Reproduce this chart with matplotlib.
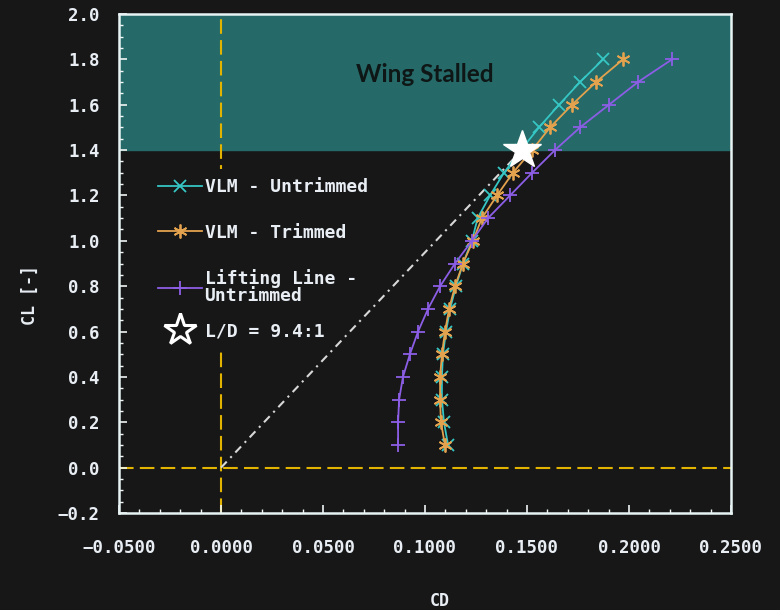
import numpy as np
import matplotlib as mpl
mpl.use('Agg')
import matplotlib.pyplot as plt
from matplotlib.lines import Line2D
from matplotlib.ticker import MultipleLocator, FuncFormatter

# CL sweep shared by all three polars
cl = [0.1, 0.2, 0.3, 0.4, 0.5, 0.6, 0.7, 0.8, 0.9, 1.0,
      1.1, 1.2, 1.3, 1.4, 1.5, 1.6, 1.7, 1.8]
cd_vlm_untrim = [0.1113, 0.1093, 0.1083, 0.1083, 0.1088, 0.1103, 0.1123, 0.1152, 0.1186,
                 0.1230, 0.1258, 0.1319, 0.1387, 0.1470, 0.1559, 0.1657, 0.1760, 0.1873]
cd_vlm_trim = [0.1098, 0.1078, 0.1074, 0.1074, 0.1083, 0.1098, 0.1118, 0.1147, 0.1186,
               0.1235, 0.1279, 0.1353, 0.1431, 0.1525, 0.1613, 0.1721, 0.1838, 0.1971]
cd_lifting = [0.0868, 0.0868, 0.0873, 0.0892, 0.0926, 0.0966, 0.1015, 0.1074, 0.1147,
              0.1230, 0.1309, 0.1417, 0.1525, 0.1637, 0.1760, 0.1902, 0.2044, 0.2211]

# best L/D point and stall limit
ld_cd = 0.1475
ld_cl = 1.40
stall_cl = 1.4

bg = '#171717'
txt = '#e8eef4'
mono = 'DejaVu Sans Mono'

c_cyan = '#36c6c4'
c_orange = '#e3a24e'
c_purple = '#8c5ee6'

fig = plt.figure(figsize=(7.8, 6.1), dpi=100, facecolor=bg)
ax = fig.add_axes([119/780, 97/610, 612/780, 499/610], facecolor=bg)

ax.axhspan(stall_cl, 2.0, color='#256a68', zorder=0)
ax.axvline(0, color='#e2b400', lw=1.5, dashes=[7, 3], zorder=1)
ax.axhline(0, color='#e2b400', lw=1.5, dashes=[7, 3], zorder=1)

ax.plot([0, ld_cd], [0, ld_cl], color='#d8d8d8', lw=1.5, dashes=[4, 2.5, 1, 2.5], zorder=3)

l1, = ax.plot(cd_vlm_untrim, cl, color=c_cyan, lw=1.3, marker='x', ms=8, mew=1.3, zorder=4)
l2, = ax.plot(cd_vlm_trim, cl, color=c_orange, lw=1.3, marker=(6, 2, 0), ms=10, mew=1.3, zorder=4)
l3, = ax.plot(cd_lifting, cl, color=c_purple, lw=1.3, marker='+', ms=10, mew=1.3, zorder=4)
ax.plot([ld_cd], [ld_cl], marker='*', ms=29, mfc='white', mec='white', ls='none', zorder=6)

ax.text(0.5, 0.878, 'Wing Stalled', transform=ax.transAxes, ha='center', va='center',
        fontsize=17.5, family='Lato', weight='bold', color='#0e1616')

ax.set_xlim(-0.05, 0.25)
ax.set_ylim(-0.2, 2.0)
ax.xaxis.set_major_locator(MultipleLocator(0.05))
ax.xaxis.set_minor_locator(MultipleLocator(0.01))
ax.yaxis.set_major_locator(MultipleLocator(0.2))
ax.yaxis.set_minor_locator(MultipleLocator(0.05))
ax.xaxis.set_major_formatter(FuncFormatter(lambda v, p: ('%.4f' % v).replace('-', '\u2212')))
ax.yaxis.set_major_formatter(FuncFormatter(lambda v, p: ('%.1f' % v).replace('-', '\u2212')))

ax.tick_params(which='both', direction='in', colors='#f0f4f4', labelcolor=txt,
               labelsize=12.5, top=False, right=False)
ax.tick_params(which='major', length=6, width=1.2)
ax.tick_params(axis='x', which='major', pad=19)
ax.tick_params(axis='y', which='major', pad=14)
ax.tick_params(which='minor', length=3, width=1.0)
for lab in ax.get_xticklabels() + ax.get_yticklabels():
    lab.set_family(mono)
    lab.set_weight('bold')
for s in ax.spines.values():
    s.set_color('#e8f4f4')
    s.set_linewidth(1.8)

ax.set_xlabel('CD', family=mono, fontsize=12, weight='bold', color=txt, va='center')
ax.set_ylabel('CL [-]', family=mono, fontsize=12, weight='bold', color=txt, va='center')
ax.xaxis.set_label_coords(0.524, -0.176)
ax.yaxis.set_label_coords(-0.145, 0.437)

leg = ax.legend([l1, l2, l3], ['VLM - Untrimmed', 'VLM - Trimmed', 'Lifting Line -\nUntrimmed'],
                loc='upper left', bbox_to_anchor=(0.035, 0.707), frameon=True,
                facecolor=bg, edgecolor='none', framealpha=1, fancybox=False,
                prop={'family': mono, 'weight': 'bold', 'size': 13},
                labelcolor=txt, handlelength=2.4, handletextpad=0.15,
                labelspacing=1.52, borderpad=0.5)
for t in leg.get_texts():
    t.set_linespacing(0.95)
leg.set_zorder(2.5)
ax.add_artist(leg)

star_h = Line2D([], [], marker='*', ms=24, mfc=bg, mec='white', mew=2.2, ls='none')
leg2 = ax.legend([star_h], ['L/D = 9.4:1'], loc='upper left', bbox_to_anchor=(0.035, 0.418),
                 frameon=True, facecolor=bg, edgecolor='none', framealpha=1, fancybox=False,
                 prop={'family': mono, 'weight': 'bold', 'size': 13},
                 labelcolor=txt, handlelength=2.4, handletextpad=0.15, borderpad=0.5)
leg2.set_zorder(2.5)

fig.savefig('out.png', dpi=100, facecolor=bg)
